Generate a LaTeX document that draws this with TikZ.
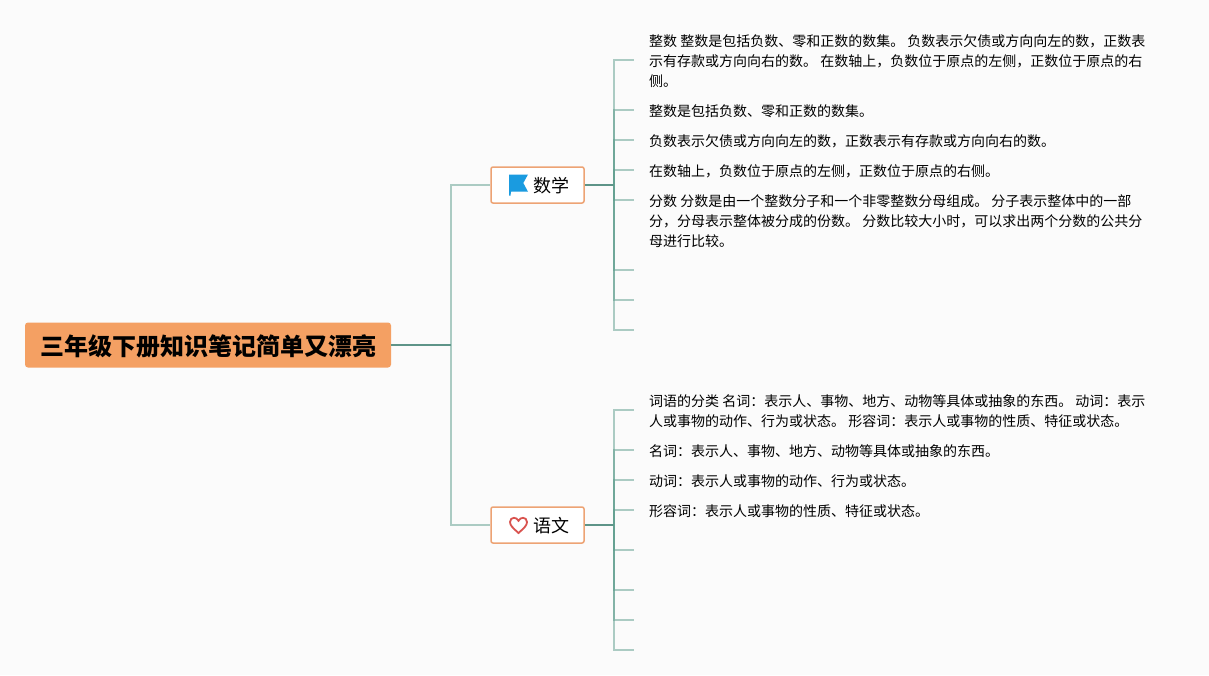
\documentclass[tikz,border=0pt]{standalone}
\usepackage{fontspec}
\setmainfont{Noto Sans CJK SC}
\usetikzlibrary{positioning, calc}

\tikzset{
    rootbox/.style={fill=rootorange, rounded corners=3pt, minimum width=366pt, minimum height=45pt, inner sep=0pt, text height=24pt, text depth=2.2pt, font=\fontsize{24}{28}\selectfont\bfseries},
    topicbox/.style={draw=boxorange, line width=1.5pt, fill=white, rounded corners=2pt, minimum width=93pt, minimum height=36pt, inner sep=0pt, text height=18pt, text depth=2.2pt, font=\fontsize{18}{22}\selectfont},
    note/.style={anchor=west, align=left, inner sep=0pt, font=\fontsize{14}{20}\selectfont},
    leaflink/.style={draw=linkteal, draw opacity=0.5, line width=1.5pt},
    darklink/.style={draw=linkdark, line width=1.6pt}
}
\definecolor{pagebg}{HTML}{FBFBFB}
\definecolor{rootorange}{HTML}{F4A063}
\definecolor{boxorange}{HTML}{EDA374}
\definecolor{linkteal}{HTML}{5C9C8C}
\definecolor{linkdark}{HTML}{5E9488}
\definecolor{flagblue}{HTML}{1A9BE0}
\definecolor{heartred}{HTML}{D9534F}

\begin{document}
\begin{tikzpicture}[x=1pt, y=-1pt]
    % Background
    \fill[pagebg] (0,0) rectangle (1209,675);
    \useasboundingbox (0,0) rectangle (1209,675);

    % Root and topics
    \node[rootbox] (root) at (208,345) {三年级下册知识笔记简单又漂亮};
    \node[topicbox] (math) at (537.5,185) {\hspace*{27pt}数学};
    \node[topicbox] (chinese) at (537.5,525) {\hspace*{27pt}语文};

    % Icons
    \fill[flagblue] (509,174.5) -- (528,174.5) -- (523.3,183) -- (528,191.7) -- (511,191.7) -- (510.5,195.5) -- (509,195.5) -- cycle;
    \draw[heartred, line width=1.8pt] (518.5,533) .. controls (513,528) and (510,525.5) .. (510,522) .. controls (510,519.3) and (512,517.8) .. (514,517.8) .. controls (516,517.8) and (517.5,519) .. (518.5,520.8) .. controls (519.5,519) and (521,517.8) .. (523,517.8) .. controls (525,517.8) and (527,519.3) .. (527,522) .. controls (527,525.5) and (524,528) .. (518.5,533) -- cycle;

    % Junctions
    \coordinate (trunk) at (451,345);
    \coordinate (mathspine) at (614,185);
    \coordinate (chinesespine) at (614,525);

    % Root connectors
    \draw[darklink] (root.east) -- (trunk);
    \draw[leaflink] (trunk) |- (math.west);
    \draw[leaflink] (trunk) |- (chinese.west);
    \draw[darklink] (math.east) -- (mathspine);
    \draw[darklink] (chinese.east) -- (chinesespine);

    % Math leaves
    \coordinate (mleafa) at (634,60);
    \coordinate (mleafb) at (634,110);
    \coordinate (mleafc) at (634,140);
    \coordinate (mleafd) at (634,170);
    \coordinate (mleafe) at (634,200);
    \coordinate (mleaff) at (634,270);
    \coordinate (mleafg) at (634,300);
    \coordinate (mleafh) at (634,330);
    \draw[leaflink] (mathspine) |- (mleafa);
    \draw[leaflink] (mathspine) |- (mleafb);
    \draw[leaflink] (mathspine) |- (mleafc);
    \draw[leaflink] (mathspine) |- (mleafd);
    \draw[leaflink] (mathspine) |- (mleafe);
    \draw[leaflink] (mathspine) |- (mleaff);
    \draw[leaflink] (mathspine) |- (mleafg);
    \draw[leaflink] (mathspine) |- (mleafh);

    % Chinese leaves
    \coordinate (cleafa) at (634,410);
    \coordinate (cleafb) at (634,450);
    \coordinate (cleafc) at (634,480);
    \coordinate (cleafd) at (634,510);
    \coordinate (cleafe) at (634,550);
    \coordinate (cleaff) at (634,590);
    \coordinate (cleafg) at (634,620);
    \coordinate (cleafh) at (634,650);
    \draw[leaflink] (chinesespine) |- (cleafa);
    \draw[leaflink] (chinesespine) |- (cleafb);
    \draw[leaflink] (chinesespine) |- (cleafc);
    \draw[leaflink] (chinesespine) |- (cleafd);
    \draw[leaflink] (chinesespine) |- (cleafe);
    \draw[leaflink] (chinesespine) |- (cleaff);
    \draw[leaflink] (chinesespine) |- (cleafg);
    \draw[leaflink] (chinesespine) |- (cleafh);

    % Math notes
    \node[note] (mnotea) at (649,61) {整数 整数是包括负数、零和正数的数集。 负数表示欠债或方向向左的数，正数表\\示有存款或方向向右的数。 在数轴上，负数位于原点的左侧，正数位于原点的右\\侧。};
    \node[note] (mnoteb) at (649,111) {整数是包括负数、零和正数的数集。};
    \node[note] (mnotec) at (649,141) {负数表示欠债或方向向左的数，正数表示有存款或方向向右的数。};
    \node[note] (mnoted) at (649,171) {在数轴上，负数位于原点的左侧，正数位于原点的右侧。};
    \node[note] (mnotee) at (649,221) {分数 分数是由一个整数分子和一个非零整数分母组成。 分子表示整体中的一部\\分，分母表示整体被分成的份数。 分数比较大小时，可以求出两个分数的公共分\\母进行比较。};

    % Chinese notes
    \node[note] (cnotea) at (649,411) {词语的分类 名词：表示人、事物、地方、动物等具体或抽象的东西。 动词：表示\\人或事物的动作、行为或状态。 形容词：表示人或事物的性质、特征或状态。};
    \node[note] (cnoteb) at (649,451) {名词：表示人、事物、地方、动物等具体或抽象的东西。};
    \node[note] (cnotec) at (649,481) {动词：表示人或事物的动作、行为或状态。};
    \node[note] (cnoted) at (649,511) {形容词：表示人或事物的性质、特征或状态。};
\end{tikzpicture}
\end{document}
